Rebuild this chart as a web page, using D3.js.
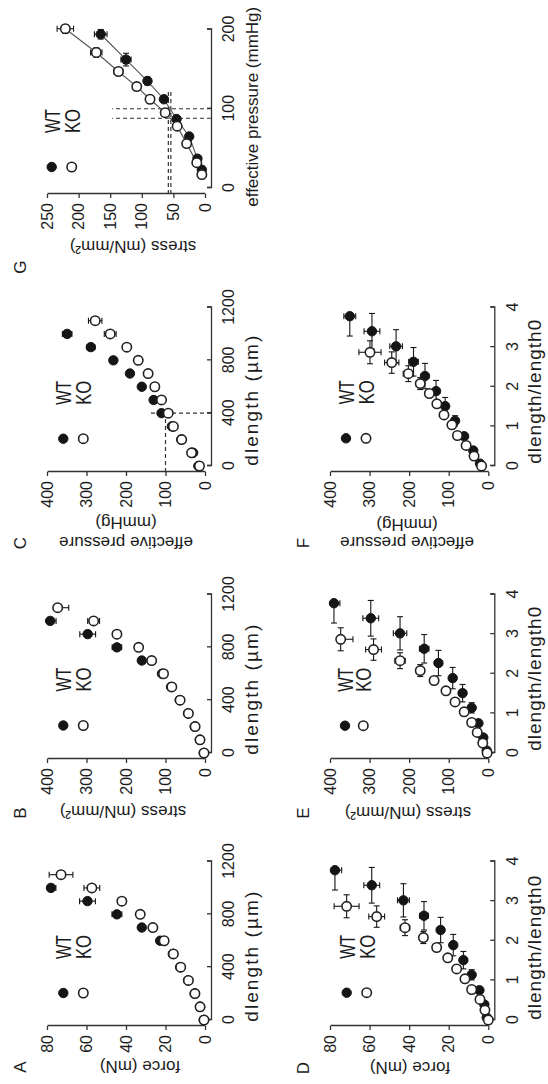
<!DOCTYPE html>
<html>
<head>
<meta charset="utf-8">
<script src="https://cdn.jsdelivr.net/npm/d3@7"></script>
<style>
body{margin:0;background:#fff}
svg{display:block}
text{font-family:"Liberation Sans",Arial,sans-serif;fill:#1c1c1c}
.axis path,.axis line{stroke:#333;stroke-width:1.3}
.axis text{font-size:16px}
</style>
</head>
<body>
<div id="fig"></div>
<script>
// ---- data ----
// A-C : x = dlength (um), fixed steps
var dlenWT = [0,100,200,300,400,500,600,700,800,900,1000];
var dlenKO = [0,100,200,300,400,500,600,700,800,900,1000,1100];

var forceA_WT = [0.6,2.5,5.2,8.6,12.6,16.3,22.7,32,44.6,59.5,78];
var forceA_WTerr = [0.1,0.2,0.3,0.4,0.5,0.7,1,1.5,2.5,4,2.5];
var forceA_KO = [0.5,2.5,5.1,8.4,12.3,16,20.7,26.4,32.8,42.1,57.3,72.9];
var forceA_KOerr = [0.1,0.2,0.3,0.4,0.5,0.6,0.8,1,1.5,2,4,6];

var stressB_WT = [3,13,26,43,64,86,109,160,223,297,392];
var stressB_WTerr = [1,1,2,2,3,4,5,8,12,20,15];
var stressB_KO = [2.5,12.6,25,42,63,84,105,135,168,223,282,373];
var stressB_KOerr = [1,1,2,2,3,3,4,5,8,10,15,28];

var pressC_WT = [17,30,60,84,110,130,160,190,232,289,349];
var pressC_WTerr = [1,1,2,2,3,4,5,6,8,10,12];
var pressC_KO = [14,34,59,80,93,110,127,144,169,198,240,278];
var pressC_KOerr = [1,1,2,2,3,3,4,5,6,8,15,17];

// D-F : x = dlength/length0
var dlrWT = [0.06,0.39,0.75,1.14,1.51,1.89,2.27,2.63,3.02,3.40,3.78];
var dlrWTerr = [0.02,0.04,0.08,0.13,0.22,0.27,0.32,0.36,0.42,0.45,0.5];
var dlrKO = [0,0.25,0.52,0.77,1.04,1.29,1.57,1.83,2.08,2.33,2.61,2.87];
var dlrKOerr = [0.01,0.03,0.04,0.05,0.06,0.07,0.08,0.1,0.15,0.2,0.27,0.29];

var forceD_WT = [0.8,2,4.5,8.4,12.6,17.7,24.1,32.5,42.9,58.9,77.5];
var forceD_WTerr = [0.2,0.4,0.6,0.8,1,1.2,1.6,2.2,3,4,3.4];
var forceD_KO = [0,1.7,4.2,8.4,11.8,16,20.5,26.1,32.8,42.1,56.4,71.6];
var forceD_KOerr = [0.1,0.2,0.3,0.5,0.7,0.9,1.2,1.5,1.8,2.4,4,6.3];

var stressE_WT = [4,12.6,25,42,65,90,126,162,223,297,390];
var stressE_WTerr = [1,2,3,4,5,6,9,12,17,20,15];
var stressE_KO = [3,14,28,42,61,84,107,137,172,223,290,373];
var stressE_KOerr = [1,1,2,3,4,5,6,8,10,13,20,31];

var pressF_WT = [21,38,61,84,109,132,160,189,233,294,350];
var pressF_WTerr = [1,2,3,4,5,7,9,12,16,20,15];
var pressF_KO = [17,36,56,78,92,112,130,149,172,202,244,299];
var pressF_KOerr = [1,1,2,3,4,5,6,8,10,13,18,28];

// G : effective pressure (mmHg) vs stress
var pressG_WT = [23,37,65,87,112,135,162,194];
var pressG_WTerr = [2,2,3,3,4,5,8,6];
var stressG_WT = [5,12,25,45,65,91,125,165];
var stressG_WTerr = [1,1.5,2,3,4,5,8,10];
var pressG_KO = [17,32,56,78,95,112,128,147,171,201];
var pressG_KOerr = [2,2,3,3,3,4,4,5,6,6];
var stressG_KO = [5,13,29,44,63,87,108,137,172,221];
var stressG_KOerr = [1,1.5,2,2.5,3,4,6,7,9,13];

var ticksLen = [0,400,800,1200];
var ticksRatio = [0,1,2,3,4];
var ticks80 = [0,20,40,60,80];
var ticks400 = [0,100,200,300,400];
var ticksG_x = [0,100,200];
var ticksG_y = [0,50,100,150,200,250];

// ---- layout (figure drawn landscape, then turned a quarter) ----
var W = 1084, H = 548;
var colX = [64,331,618,896];
var rowTop = [47,330], rowBot = [205,488.3];
var plotW = 158.5;

function series(x, xe, y, ye){
  return x.map(function(v,i){ return {x:v, xe: xe ? xe[i] : 0, y:y[i], ye:ye[i]}; });
}

var panels = [
  {letter:"A", col:0,row:0, lx:17, xMax:1200, xTicks:ticksLen, yMax:80, yTicks:ticks80,
   xTitle:"dlength (µm)", xLen:130, xShift:-16, yTitle:["force (mN)"], yTx:[-41], yTy:140, leg:[27,16.3,36.3],
   wt:series(dlenWT,null,forceA_WT,forceA_WTerr), ko:series(dlenKO,null,forceA_KO,forceA_KOerr)},
  {letter:"B", col:1,row:0, lx:271, xMax:1200, xTicks:ticksLen, yMax:400, yTicks:ticks400,
   xTitle:"dlength (µm)", xLen:130, xShift:-16, yTitle:["stress (mN/mm²)"], yTx:[-53], yTy:123, leg:[27.5,16.3,36.3],
   wt:series(dlenWT,null,stressB_WT,stressB_WTerr), ko:series(dlenKO,null,stressB_KO,stressB_KOerr)},
  {letter:"C", col:2,row:0, lx:541, xMax:1200, xTicks:ticksLen, yMax:400, yTicks:ticks400,
   xTitle:"dlength (µm)", xLen:130, xShift:-14, yTitle:["effective pressure","(mmHg)"], yTx:[-71,-51], yTy:126, leg:[27.3,16.3,36.3],
   wt:series(dlenWT,null,pressC_WT,pressC_WTerr), ko:series(dlenKO,null,pressC_KO,pressC_KOerr),
   vGuides:[{x:400,top:140}], hGuides:[{y:100,right:400}]},
  {letter:"G", col:3,row:0, lx:817, xMax:200, xTicks:ticksG_x, yMax:250, yTicks:ticksG_y,
   xTitle:"effective pressure (mmHg)", xFont:17, xShift:2, yTitle:["stress (mN/mm²)"], yTx:[-53], yTy:133, leg:[21,4.7,24.7],
   wt:series(pressG_WT,pressG_WTerr,stressG_WT,stressG_WTerr), ko:series(pressG_KO,pressG_KOerr,stressG_KO,stressG_KOerr),
   connect:true, vGuides:[{x:88,top:147},{x:100,top:147}], hGuides:[{y:54,right:122},{y:58,right:122}]},
  {letter:"D", col:0,row:1, lx:16, xMax:4, xTicks:ticksRatio, yMax:80, yTicks:ticks80,
   xTitle:"dlength/length0", xLen:144, xShift:-7, yTitle:["force (mN)"], yTx:[-42], yTy:410, leg:[27.3,16.7,36.7],
   wt:series(dlrWT,dlrWTerr,forceD_WT,forceD_WTerr), ko:series(dlrKO,dlrKOerr,forceD_KO,forceD_KOerr)},
  {letter:"E", col:1,row:1, lx:271, xMax:4, xTicks:ticksRatio, yMax:400, yTicks:ticks400,
   xTitle:"dlength/length0", xLen:144, xShift:-5, yTitle:["stress (mN/mm²)"], yTx:[-54], yTy:408, leg:[27.3,15,33.3],
   wt:series(dlrWT,dlrWTerr,stressE_WT,stressE_WTerr), ko:series(dlrKO,dlrKOerr,stressE_KO,stressE_KOerr)},
  {letter:"F", col:2,row:1, lx:541, xMax:4, xTicks:ticksRatio, yMax:400, yTicks:ticks400,
   xTitle:"dlength/length0", xLen:144, xShift:-5, yTitle:["effective pressure","(mmHg)"], yTx:[-71,-53], yTy:407, leg:[27.7,16,36],
   wt:series(dlrWT,dlrWTerr,pressF_WT,pressF_WTerr), ko:series(dlrKO,dlrKOerr,pressF_KO,pressF_KOerr)}
];

var svg = d3.select("#fig").append("svg").attr("width",H).attr("height",W);
var fig = svg.append("g").attr("transform","translate(0,"+W+") rotate(-90)");

var ink = "#151515", cap = 3, rad = 4.7;
var fmt = d3.format("d");

panels.forEach(function(p){
  var x0 = colX[p.col], top = rowTop[p.row], bot = rowBot[p.row];
  var x = d3.scaleLinear().domain([0,p.xMax]).range([x0, x0+plotW]);
  var y = d3.scaleLinear().domain([0,p.yMax]).range([bot, top]);
  var yLine = x0 - 6, xLine = bot + 6;
  var g = fig.append("g");

  g.append("g").attr("class","axis").attr("transform","translate("+yLine+",0)")
    .call(d3.axisLeft(y).tickValues(p.yTicks).tickFormat(fmt).tickSizeInner(4).tickSizeOuter(0).tickPadding(5));
  g.append("g").attr("class","axis").attr("transform","translate(0,"+xLine+")")
    .call(d3.axisBottom(x).tickValues(p.xTicks).tickFormat(fmt).tickSizeInner(-4).tickSizeOuter(-4).tickPadding(12));

  // titles
  var xt = g.append("text").attr("x", x0 + plotW/2 + p.xShift).attr("y", xLine + 47)
    .attr("text-anchor","middle").style("font-size",(p.xFont||19)+"px").text(p.xTitle);
  if (p.xLen) xt.attr("textLength",p.xLen).attr("lengthAdjust","spacing");
  p.yTitle.forEach(function(t,i){
    var tx = yLine + p.yTx[i];
    g.append("text").attr("transform","translate("+tx+","+p.yTy+") rotate(-90)")
      .attr("text-anchor","middle").attr("dy","0.35em").style("font-size","17px").text(t);
  });
  g.append("text").attr("x",p.lx).attr("y",top-27).attr("dy","0.35em")
    .attr("text-anchor","middle").style("font-size","17px").text(p.letter);

  // dashed guides
  (p.vGuides||[]).forEach(function(d){
    g.append("line").attr("x1",x(d.x)).attr("x2",x(d.x)).attr("y1",xLine).attr("y2",y(d.top))
      .attr("stroke","#333").attr("stroke-width",1.2).attr("stroke-dasharray","4,3");
  });
  (p.hGuides||[]).forEach(function(d){
    g.append("line").attr("x1",yLine).attr("x2",x(d.right)).attr("y1",y(d.y)).attr("y2",y(d.y))
      .attr("stroke","#333").attr("stroke-width",1.2).attr("stroke-dasharray","4,3");
  });

  // error bars
  function bars(data){
    var eg = g.append("g").attr("stroke",ink).attr("stroke-width",1.1);
    data.forEach(function(d){
      var px = x(d.x), py = y(d.y);
      [d.y - d.ye, d.y + d.ye].forEach(function(v){
        if (d.ye <= 0 || v > p.yMax) return;
        eg.append("line").attr("x1",px).attr("x2",px).attr("y1",py).attr("y2",y(v));
        eg.append("line").attr("x1",px-cap).attr("x2",px+cap).attr("y1",y(v)).attr("y2",y(v));
      });
      [d.x - d.xe, d.x + d.xe].forEach(function(v){
        if (d.xe <= 0 || v > p.xMax) return;
        eg.append("line").attr("x1",px).attr("x2",x(v)).attr("y1",py).attr("y2",py);
        eg.append("line").attr("x1",x(v)).attr("x2",x(v)).attr("y1",py-cap).attr("y2",py+cap);
      });
    });
  }
  bars(p.wt); bars(p.ko);

  if (p.connect){
    var line = d3.line().x(function(d){return x(d.x);}).y(function(d){return y(d.y);});
    [p.wt,p.ko].forEach(function(s){
      g.append("path").attr("d",line(s)).attr("fill","none").attr("stroke","#555").attr("stroke-width",1.1);
    });
  }

  g.selectAll(".wt").data(p.wt).join("circle").attr("class","wt")
    .attr("cx",function(d){return x(d.x);}).attr("cy",function(d){return y(d.y);})
    .attr("r",rad).attr("fill",ink).attr("stroke",ink).attr("stroke-width",1);
  g.selectAll(".ko").data(p.ko).join("circle").attr("class","ko")
    .attr("cx",function(d){return x(d.x);}).attr("cy",function(d){return y(d.y);})
    .attr("r",rad).attr("fill","#fff").attr("stroke","#222").attr("stroke-width",1.6);

  // legend
  var lx = x0 + p.leg[0];
  [["WT",p.leg[1],ink],["KO",p.leg[2],"#fff"]].forEach(function(l){
    g.append("circle").attr("cx",lx).attr("cy",top + l[1]).attr("r",rad)
      .attr("fill",l[2]).attr("stroke",l[0]=="WT" ? ink : "#222").attr("stroke-width",l[0]=="WT" ? 1 : 1.6);
    g.append("text").attr("x",lx + 34).attr("y",top + l[1]).attr("dy","0.36em")
      .style("font-size","22px").attr("textLength",24).attr("lengthAdjust","spacingAndGlyphs").text(l[0]);
  });
});
</script>
</body>
</html>
